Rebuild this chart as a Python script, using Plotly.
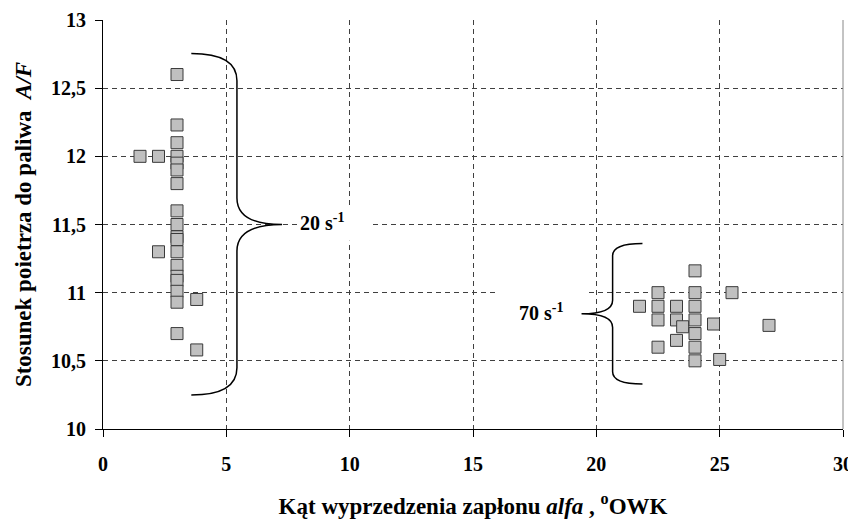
import plotly.graph_objects as go

# ---- data ----
x_20 = [3, 3, 3, 3, 3, 3, 3, 3, 3, 3, 3, 3, 3, 3, 3, 3, 3, 3, 1.5, 2.25, 2.25, 3.8, 3.8]
y_20 = [12.6, 12.23, 12.1, 12.0, 11.95, 11.9, 11.8, 11.6, 11.5, 11.41, 11.39, 11.3, 11.2, 11.12, 11.09, 11.01, 10.93, 10.7,
        12.0, 12.0, 11.3, 10.95, 10.58]
x_70 = [24.0, 22.5, 24.0, 25.5, 21.75, 22.5, 23.25, 24.0, 22.5, 23.25, 23.5, 24.0, 24.75, 27.0, 24.0, 23.25, 22.5, 24.0, 24.0, 25.0]
y_70 = [11.16, 11.0, 11.0, 11.0, 10.9, 10.9, 10.9, 10.9, 10.8, 10.8, 10.75, 10.8, 10.77, 10.76, 10.7, 10.65, 10.6, 10.6, 10.5, 10.51]
x_ticks = [0, 5, 10, 15, 20, 25, 30]
y_ticks = [10, 10.5, 11, 11.5, 12, 12.5, 13]
y_tick_labels = ["10", "10,5", "11", "11,5", "12", "12,5", "13"]
label_20 = "20 s<sup>-1</sup>"
label_70 = "70 s<sup>-1</sup>"

FONT = "Liberation Serif, Times New Roman, serif"
marker = dict(symbol="square", size=12, color="#c0c0c0", line=dict(color="#3a3a3a", width=1))

fig = go.Figure()
fig.add_trace(go.Scatter(x=x_20, y=y_20, mode="markers", marker=marker, showlegend=False))
fig.add_trace(go.Scatter(x=x_70, y=y_70, mode="markers", marker=marker, showlegend=False))


def brace(x_end, x_spine, x_tip, y_top, y_mid, y_bot, r_end, r_mid):
    return (f"M {x_end},{y_top} Q {x_spine},{y_top} {x_spine},{y_top - r_end} "
            f"L {x_spine},{y_mid + r_mid} Q {x_spine},{y_mid} {x_tip},{y_mid} "
            f"Q {x_spine},{y_mid} {x_spine},{y_mid - r_mid} "
            f"L {x_spine},{y_bot + r_end} Q {x_spine},{y_bot} {x_end},{y_bot}")


shapes = [
    dict(type="rect", xref="x", yref="y", x0=7.87, x1=10.85, y0=11.38, y1=11.62,
         fillcolor="white", line=dict(width=0), layer="between"),
    dict(type="rect", xref="x", yref="y", x0=15.9, x1=19.6, y0=10.72, y1=11.02,
         fillcolor="white", line=dict(width=0), layer="between"),
    dict(type="line", xref="paper", yref="paper", x0=1, x1=1, y0=0, y1=1,
         line=dict(color="#888888", width=1)),
    dict(type="path", xref="x", yref="y",
         path=brace(3.58, 5.43, 7.26, 12.755, 11.5, 10.25, 0.2, 0.195),
         line=dict(color="black", width=1.5)),
    dict(type="path", xref="x", yref="y",
         path=brace(21.87, 20.66, 19.40, 11.36, 10.845, 10.33, 0.09, 0.1),
         line=dict(color="black", width=1.5)),
]

annotations = [
    dict(x=7.9, y=11.515, xref="x", yref="y", text=f"<b>{label_20}</b>", showarrow=False,
         xanchor="left", yanchor="middle", font=dict(family=FONT, size=20, color="black")),
    dict(x=16.78, y=10.86, xref="x", yref="y", text=f"<b>{label_70}</b>", showarrow=False,
         xanchor="left", yanchor="middle", font=dict(family=FONT, size=20, color="black")),
]

grid_common = dict(showgrid=True, gridcolor="#404040", gridwidth=1, griddash="5px,4px")
tickfont = dict(family=FONT, size=20, color="black", weight=700)

# page body has an 8px margin, so the figure is sized to fit the remaining window
fig.update_layout(
    width=848, height=511,
    margin=dict(l=95, r=13, t=12, b=90, autoexpand=False),
    paper_bgcolor="white", plot_bgcolor="white",
    font=dict(family=FONT, color="black"),
    shapes=shapes, annotations=annotations,
    xaxis=dict(range=[0, 30], tickvals=x_ticks, ticks="outside", ticklen=7, tickcolor="black",
               showline=True, linecolor="black", linewidth=1, zeroline=False, automargin=False,
               tickfont=tickfont, ticklabelstandoff=10,
               title=dict(text="<b>Kąt wyprzedzenia zapłonu <i>alfa</i> , <sup>o</sup>OWK</b>",
                          font=dict(family=FONT, size=23, color="black"), standoff=24),
               **grid_common),
    yaxis=dict(range=[10, 13], tickvals=y_ticks, ticktext=y_tick_labels, ticks="outside", ticklen=7,
               tickcolor="black", showline=True, linecolor="black", linewidth=1, zeroline=False,
               automargin=False,
               tickfont=tickfont, ticklabelstandoff=5,
               title=dict(text="<b>Stosunek poietrza do paliwa  <i>A/F</i></b>",
                          font=dict(family=FONT, size=23, color="black"), standoff=12),
               **grid_common),
)

fig.write_html("out.html")
